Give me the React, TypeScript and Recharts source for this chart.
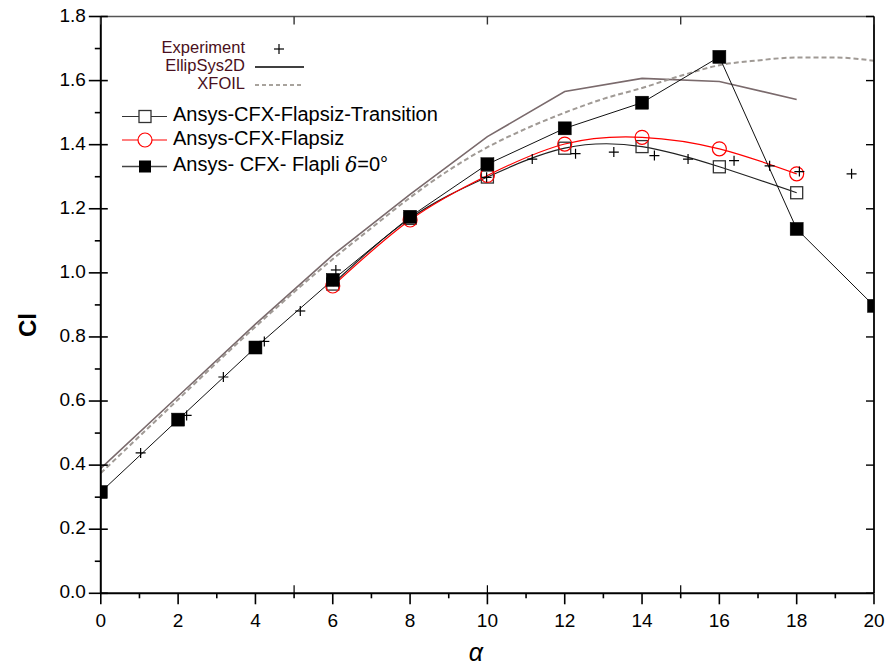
import React from 'react';
import { ComposedChart, Line, XAxis, YAxis, Legend } from 'recharts';

// ---------- data ----------
const xTicks = [0, 1, 2, 3, 4, 5, 6, 7, 8, 9, 10, 11, 12, 13, 14, 15, 16, 17, 18, 19, 20];
const xTopTicks = [0, 5, 10, 15, 20];
const yTicks = [0, 0.1, 0.2, 0.3, 0.4, 0.5, 0.6, 0.7, 0.8, 0.9, 1.0, 1.1, 1.2, 1.3, 1.4, 1.5, 1.6, 1.7, 1.8];
const yRightTicks = [0, 0.2, 0.4, 0.6, 0.8, 1.0, 1.2, 1.4, 1.6, 1.8];

const experiment = [
  { x: 1.03, y: 0.438 }, { x: 2.22, y: 0.555 }, { x: 3.17, y: 0.675 }, { x: 4.23, y: 0.786 },
  { x: 5.16, y: 0.881 }, { x: 6.08, y: 1.009 }, { x: 9.98, y: 1.298 }, { x: 11.16, y: 1.355 },
  { x: 12.28, y: 1.372 }, { x: 13.27, y: 1.377 }, { x: 14.32, y: 1.366 }, { x: 15.19, y: 1.355 },
  { x: 16.38, y: 1.35 }, { x: 17.3, y: 1.334 }, { x: 18.07, y: 1.316 }, { x: 19.42, y: 1.309 },
];

const ellipSys2D = [
  { x: 0, y: 0.39 }, { x: 2, y: 0.615 }, { x: 4, y: 0.84 }, { x: 6, y: 1.055 }, { x: 8, y: 1.245 },
  { x: 10, y: 1.425 }, { x: 12, y: 1.566 }, { x: 14, y: 1.607 }, { x: 16, y: 1.597 }, { x: 18, y: 1.541 },
];

const xfoil = [
  { x: 0, y: 0.375 }, { x: 1, y: 0.49 }, { x: 2, y: 0.605 }, { x: 3, y: 0.72 }, { x: 4, y: 0.832 },
  { x: 5, y: 0.94 }, { x: 6, y: 1.043 }, { x: 7, y: 1.14 }, { x: 8, y: 1.235 }, { x: 9, y: 1.32 },
  { x: 10, y: 1.392 }, { x: 11, y: 1.45 }, { x: 12, y: 1.5 }, { x: 13, y: 1.543 }, { x: 14, y: 1.577 },
  { x: 15, y: 1.615 }, { x: 16, y: 1.648 }, { x: 17, y: 1.663 }, { x: 18, y: 1.672 }, { x: 19, y: 1.672 },
  { x: 20, y: 1.662 },
];

const flapsizTransition = [
  { x: 6, y: 0.965 }, { x: 8, y: 1.17 }, { x: 10, y: 1.299 }, { x: 12, y: 1.389 },
  { x: 14, y: 1.394 }, { x: 16, y: 1.331 }, { x: 18, y: 1.25 },
];

const flapsiz = [
  { x: 6, y: 0.959 }, { x: 8, y: 1.165 }, { x: 10, y: 1.304 }, { x: 12, y: 1.402 },
  { x: 14, y: 1.423 }, { x: 16, y: 1.387 }, { x: 18, y: 1.309 },
];

const flapli = [
  { x: 0, y: 0.316 }, { x: 2, y: 0.542 }, { x: 4, y: 0.767 }, { x: 6, y: 0.978 }, { x: 8, y: 1.175 },
  { x: 10, y: 1.339 }, { x: 12, y: 1.451 }, { x: 14, y: 1.531 }, { x: 16, y: 1.674 }, { x: 18, y: 1.137 },
  { x: 20, y: 0.897 },
];

// ---------- styling ----------
const W = 887;
const H = 668;
const FONT = 'Liberation Sans, Arial, sans-serif';
const LEGEND_TEXT = '#4a1020';

const BottomTick = (props: any) => {
  const { x, y, payload } = props;
  const v = payload.value;
  const major = v % 2 === 0;
  const inner = v === 5 || v === 10 || v === 15;
  return (
    <g>
      <line x1={x} x2={x} y1={y} y2={y + (major ? 11 : 5)} stroke="#000" strokeWidth={1.6} />
      {inner && <line x1={x} x2={x} y1={y} y2={y - 8} stroke="#000" strokeWidth={1.2} />}
      {major && (
        <text x={x} y={y + 29} textAnchor="middle" dominantBaseline="middle" fontFamily={FONT} fontSize={19} fill="#000">
          {v}
        </text>
      )}
    </g>
  );
};

const LeftTick = (props: any) => {
  const { x, y, payload } = props;
  const v = payload.value;
  const major = Math.round(v * 10) % 2 === 0;
  return (
    <g>
      <line x1={x - (major ? 12 : 6)} x2={major ? x + 7 : x} y1={y} y2={y} stroke="#000" strokeWidth={1.6} />
      {major && (
        <text x={x - 15} y={y} textAnchor="end" dominantBaseline="middle" fontFamily={FONT} fontSize={19} fill="#000">
          {v.toFixed(1)}
        </text>
      )}
    </g>
  );
};

const RightTick = (props: any) => {
  const { x, y } = props;
  return <line x1={x - 8} x2={x} y1={y} y2={y} stroke="#000" strokeWidth={1.4} />;
};

const TopTick = (props: any) => {
  const { x, y } = props;
  return <line x1={x} x2={x} y1={y} y2={y + 8} stroke="#333" strokeWidth={1.4} />;
};

const OpenSquare = (p: any) => (
  <rect key={`os-${p.index}`} x={p.cx - 6} y={p.cy - 6} width={12} height={12} fill="none" stroke="#333" strokeWidth={1.3} />
);
const OpenCircle = (p: any) => (
  <circle key={`oc-${p.index}`} cx={p.cx} cy={p.cy} r={7} fill="none" stroke="#ff0000" strokeWidth={1.2} />
);
const FilledSquare = (p: any) => (
  <rect key={`fs-${p.index}`} x={p.cx - 6.5} y={p.cy - 6.5} width={13} height={13} fill="#000" stroke="#000" strokeWidth={0.5} />
);
const Plus = (p: any) => (
  <g key={`pl-${p.index}`}>
    <line x1={p.cx - 5} x2={p.cx + 5} y1={p.cy} y2={p.cy} stroke="#000" strokeWidth={1.2} />
    <line x1={p.cx} x2={p.cx} y1={p.cy - 5} y2={p.cy + 5} stroke="#000" strokeWidth={1.2} />
  </g>
);

const Overlay = () => (
  <svg width={W} height={H} style={{ position: 'absolute', left: 0, top: 0, pointerEvents: 'none' }}>
    {/* axis titles */}
    <text x={30} y={325} transform="rotate(-90 30 325)" textAnchor="middle" dominantBaseline="middle"
      fontFamily={FONT} fontSize={24} fontWeight="bold" fill="#000">Cl</text>
    <text x={476} y={654} textAnchor="middle" dominantBaseline="middle"
      fontFamily={FONT} fontSize={25} fontStyle="italic" fill="#000">α</text>

    {/* legend group 1 */}
    <text x={245} y={48.5} textAnchor="end" dominantBaseline="middle" fontFamily={FONT} fontSize={16.5} fill={LEGEND_TEXT}>Experiment</text>
    <line x1={274} x2={284} y1={49} y2={49} stroke="#000" strokeWidth={1.2} />
    <line x1={279} x2={279} y1={44} y2={54} stroke="#000" strokeWidth={1.2} />

    <text x={245} y={66.5} textAnchor="end" dominantBaseline="middle" fontFamily={FONT} fontSize={16.5} fill={LEGEND_TEXT}>EllipSys2D</text>
    <line x1={255} x2={304} y1={67} y2={67} stroke="#000" strokeWidth={1.4} />

    <text x={245} y={84.5} textAnchor="end" dominantBaseline="middle" fontFamily={FONT} fontSize={16.5} fill={LEGEND_TEXT}>XFOIL</text>
    <line x1={255} x2={304} y1={85} y2={85} stroke="#a8a39d" strokeWidth={2} strokeDasharray="4 3" />

    {/* legend group 2 */}
    <line x1={122} x2={167} y1={116.5} y2={116.5} stroke="#333" strokeWidth={1.2} />
    <rect x={139} y={110.5} width={12} height={12} fill="#fff" stroke="#333" strokeWidth={1.3} />
    <text x={173} y={116} dominantBaseline="middle" fontFamily={FONT} fontSize={20} fill="#000">Ansys-CFX-Flapsiz-Transition</text>

    <line x1={122} x2={167} y1={140} y2={140} stroke="#ff0000" strokeWidth={1.2} />
    <circle cx={145} cy={140} r={7} fill="#fff" stroke="#ff0000" strokeWidth={1.2} />
    <text x={173} y={140} dominantBaseline="middle" fontFamily={FONT} fontSize={20} fill="#000">Ansys-CFX-Flapsiz</text>

    <line x1={122} x2={167} y1={166.5} y2={166.5} stroke="#444" strokeWidth={1.4} />
    <rect x={139} y={160.5} width={12} height={12} fill="#000" />
    <text x={173} y={166} dominantBaseline="middle" fontFamily={FONT} fontSize={20} fill="#000">
      Ansys- CFX- Flapli <tspan fontStyle="italic" fontFamily="DejaVu Serif, serif">δ</tspan>=0°
    </text>
  </svg>
);

export default function App() {
  return (
    <div style={{ width: W, height: H, position: 'relative' }}>
      <style>{'html,body{margin:0;padding:0;overflow:hidden;}'}</style>
      <ComposedChart width={W} height={H} margin={{ top: 15.5, right: 8, bottom: 14.7, left: 40.8 }}>
        <XAxis xAxisId="b" type="number" dataKey="x" domain={[0, 20]} ticks={xTicks} interval={0}
          allowDataOverflow tickLine={false} tickSize={0} tickMargin={0} height={60}
          axisLine={{ stroke: '#000', strokeWidth: 2 }} tick={<BottomTick />} />
        <XAxis xAxisId="t" orientation="top" type="number" dataKey="x" domain={[0, 20]} ticks={xTopTicks} interval={0}
          allowDataOverflow tickLine={false} tickSize={0} tickMargin={0} height={1}
          axisLine={{ stroke: '#555', strokeWidth: 1.6 }} tick={<TopTick />} />
        <YAxis yAxisId="l" type="number" domain={[0, 1.8]} ticks={yTicks} interval={0} allowDataOverflow
          tickLine={false} tickSize={0} tickMargin={0} width={60}
          axisLine={{ stroke: '#000', strokeWidth: 2 }} tick={<LeftTick />} />
        <YAxis yAxisId="r" orientation="right" type="number" domain={[0, 1.8]} ticks={yRightTicks} interval={0} allowDataOverflow
          tickLine={false} tickSize={0} tickMargin={0} width={5}
          axisLine={{ stroke: '#000', strokeWidth: 1.8 }} tick={<RightTick />} />

        <Legend layout="vertical" align="center" verticalAlign="middle" content={<Overlay />}
          wrapperStyle={{ left: 0, top: 0, width: W, height: H, margin: 0, pointerEvents: 'none' }} />

        <Line xAxisId="b" yAxisId="l" data={ellipSys2D} dataKey="y" name="EllipSys2D" type="linear"
          stroke="#7a6a6c" strokeWidth={1.6} dot={false} activeDot={false} isAnimationActive={false} />
        <Line xAxisId="b" yAxisId="l" data={xfoil} dataKey="y" name="XFOIL" type="monotone"
          stroke="#a09a95" strokeWidth={2} strokeDasharray="5 3" dot={false} activeDot={false} isAnimationActive={false} />
        <Line xAxisId="b" yAxisId="l" data={flapsizTransition} dataKey="y" name="Ansys-CFX-Flapsiz-Transition" type="natural"
          stroke="#222" strokeWidth={1.2} dot={OpenSquare} activeDot={false} isAnimationActive={false} />
        <Line xAxisId="b" yAxisId="l" data={flapsiz} dataKey="y" name="Ansys-CFX-Flapsiz" type="natural"
          stroke="#ff0000" strokeWidth={1.2} dot={OpenCircle} activeDot={false} isAnimationActive={false} />
        <Line xAxisId="b" yAxisId="l" data={experiment} dataKey="y" name="Experiment" type="linear"
          stroke="none" dot={Plus} activeDot={false} isAnimationActive={false} />
        <Line xAxisId="b" yAxisId="l" data={flapli} dataKey="y" name="Ansys- CFX- Flapli δ=0°" type="linear"
          stroke="#111" strokeWidth={1} dot={FilledSquare} activeDot={false} isAnimationActive={false} />
      </ComposedChart>
    </div>
  );
}
